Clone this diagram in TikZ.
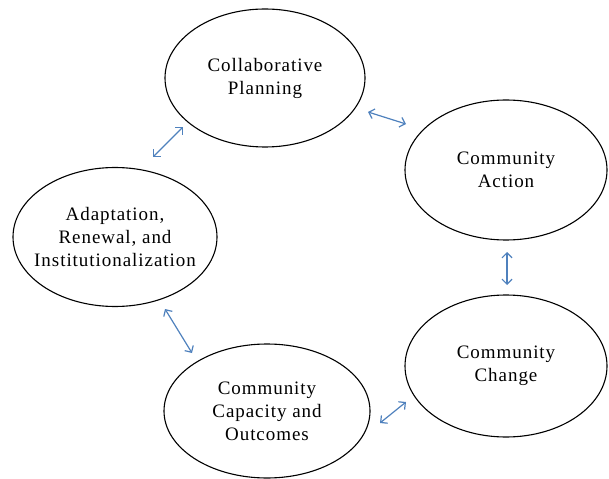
\documentclass[tikz,border=0pt]{standalone}
\usepackage{fontspec}
\setmainfont{Liberation Serif}[LetterSpace=5]
\usetikzlibrary{shapes.geometric,arrows.meta}
\definecolor{arrowblue}{HTML}{4F81BD}
\tikzset{
  stage/.style={ellipse, draw=black, line width=1.1bp, inner xsep=-25bp, inner ysep=0pt,
    align=center, font=\fontsize{19bp}{23bp}\selectfont},
  link/.style={draw=arrowblue, line width=1.2bp,
    {Straight Barb[length=5bp,width=10bp]}-{Straight Barb[length=5bp,width=10bp]}}
}
\begin{document}
\begin{tikzpicture}[x=1bp,y=-1bp]
\useasboundingbox (0,0) rectangle (609,479);
\node[stage, minimum width=200bp, minimum height=138bp] (plan) at (265,78) {Collaborative\\Planning};
\node[stage, minimum width=202bp, minimum height=140bp] (act) at (506,170) {Community\\Action};
\node[stage, minimum width=202bp, minimum height=142bp] (chg) at (506,366) {Community\\Change};
\node[stage, minimum width=206bp, minimum height=134bp] (cap) at (267,411) {Community\\Capacity and\\Outcomes};
\node[stage, minimum width=204bp, minimum height=139bp] (adp) at (115,237) {Adaptation,\\Renewal, and\\Institutionalization};
\coordinate (a1s) at (153,157); \coordinate (a1e) at (183,127);
\coordinate (a2s) at (368,112); \coordinate (a2e) at (406,124);
\coordinate (a3s) at (507,252); \coordinate (a3e) at (507,285);
\coordinate (a4s) at (165,309); \coordinate (a4e) at (192,353);
\coordinate (a5s) at (380,423); \coordinate (a5e) at (406,402);
\draw[link] (a1s) -- (a1e);
\draw[link] (a2s) -- (a2e);
\draw[link] (a3s) -- (a3e);
\draw[link] (a4s) -- (a4e);
\draw[link] (a5s) -- (a5e);
\end{tikzpicture}
\end{document}
